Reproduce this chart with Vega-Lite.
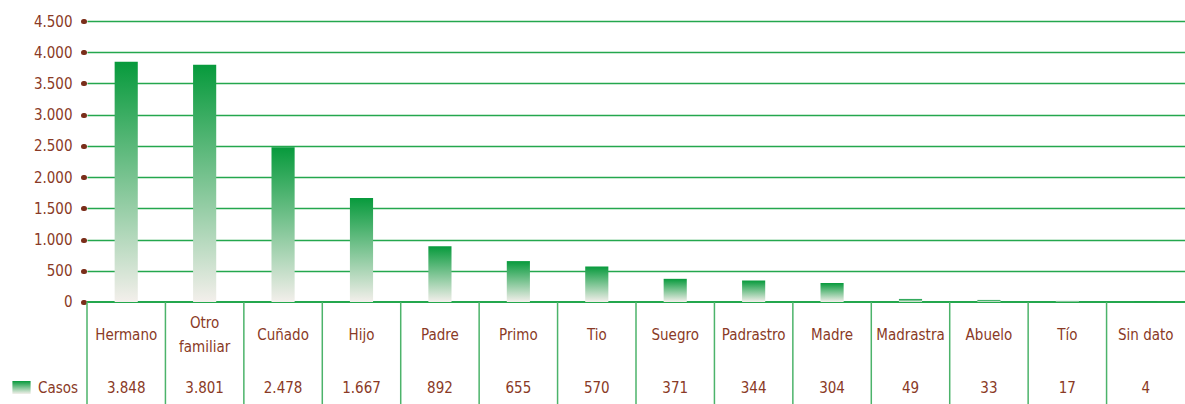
{
  "$schema": "https://vega.github.io/schema/vega-lite/v6.json",
  "width": 1098,
  "height": 383,
  "autosize": {"type": "none"},
  "padding": {"left": 87, "top": 21, "right": 0, "bottom": 0},
  "background": "white",
  "config": {
    "locale": {"number": {"decimal": ",", "thousands": ".", "grouping": [3], "currency": ["", " €"]}},
    "view": {"stroke": null, "fill": "#f4efec"},
    "font": "'DejaVu Sans Condensed', sans-serif",
    "text": {"font": "'DejaVu Sans Condensed', sans-serif", "fontSize": 15, "fill": "#8a3a26"}
  },
  "data": {
    "values": [
      {"cat": "Hermano", "label": "Hermano", "casos": 3848},
      {"cat": "Otro familiar", "label": "Otro\nfamiliar", "casos": 3801},
      {"cat": "Cuñado", "label": "Cuñado", "casos": 2478},
      {"cat": "Hijo", "label": "Hijo", "casos": 1667},
      {"cat": "Padre", "label": "Padre", "casos": 892},
      {"cat": "Primo", "label": "Primo", "casos": 655},
      {"cat": "Tio", "label": "Tio", "casos": 570},
      {"cat": "Suegro", "label": "Suegro", "casos": 371},
      {"cat": "Padrastro", "label": "Padrastro", "casos": 344},
      {"cat": "Madre", "label": "Madre", "casos": 304},
      {"cat": "Madrastra", "label": "Madrastra", "casos": 49},
      {"cat": "Abuelo", "label": "Abuelo", "casos": 33},
      {"cat": "Tío", "label": "Tío", "casos": 17},
      {"cat": "Sin dato", "label": "Sin dato", "casos": 4}
    ]
  },
  "encoding": {
    "x": {"field": "cat", "type": "nominal", "sort": null, "axis": null, "scale": {"paddingInner": 0, "paddingOuter": 0}}
  },
  "layer": [
    {
      "mark": {"type": "rect", "fill": "white"},
      "encoding": {
        "x": null,
        "y": {"datum": -1700, "type": "quantitative"},
        "y2": {"datum": -12}
      }
    },
    {
      "mark": {"type": "rule", "stroke": "#24a74e", "strokeWidth": 1.5},
      "encoding": {
        "x": null,
        "y": {"datum": 0, "type": "quantitative"}
      }
    },
    {
      "mark": {"type": "rule", "stroke": "#4cb36a", "strokeWidth": 1.5},
      "encoding": {
        "x": {"field": "cat", "type": "nominal", "sort": null, "bandPosition": 0},
        "y": {"datum": -1700, "type": "quantitative"},
        "y2": {"datum": 0}
      }
    },
    {
      "mark": {
        "type": "bar",
        "width": {"band": 0.295},
        "fill": {"gradient": "linear", "x1": 0, "y1": 0, "x2": 0, "y2": 1, "stops": [{"offset": 0, "color": "#079a3c"}, {"offset": 1, "color": "#f3efeb"}]}
      },
      "encoding": {
        "y": {
          "field": "casos",
          "type": "quantitative",
          "scale": {"domain": [-1633.5, 4500], "nice": false, "zero": false},
          "axis": {
            "values": [0, 500, 1000, 1500, 2000, 2500, 3000, 3500, 4000, 4500],
            "format": ",d",
            "title": null,
            "domain": false,
            "offset": 3,
            "tickSize": 1,
            "tickWidth": 5,
            "tickCap": "round",
            "tickColor": "#7a2e1a",
            "labelPadding": 11,
            "labelFont": "'DejaVu Sans Condensed', sans-serif",
            "labelFontSize": 15,
            "labelColor": "#8a3a26",
            "grid": true,
            "gridColor": "#24a74e",
            "gridWidth": 1.3
          }
        },
        "y2": {"datum": 0}
      }
    },
    {
      "transform": [{"filter": "false"}],
      "mark": {
        "type": "point",
        "filled": true,
        "opacity": 1,
        "strokeWidth": 0,
        "fill": {"gradient": "linear", "x1": 0, "y1": 0, "x2": 0, "y2": 1, "stops": [{"offset": 0, "color": "#079a3c"}, {"offset": 1, "color": "#f3efeb"}]}
      },
      "encoding": {
        "x": null,
        "shape": {
          "datum": "Casos",
          "type": "nominal",
          "scale": {"domain": ["Casos"], "range": ["M-1.4,-1H1.4V1H-1.4Z"]},
          "legend": {
            "title": null,
            "orient": "none",
            "legendX": -73,
            "legendY": 359,
            "padding": 0,
            "symbolSize": 169,
            "symbolStrokeWidth": 0,
            "labelOffset": 9,
            "labelFont": "'DejaVu Sans Condensed', sans-serif",
            "labelFontSize": 15,
            "labelColor": "#8a3a26"
          }
        }
      }
    },
    {
      "transform": [{"filter": "indexof(datum.label, '\\n') < 0"}],
      "mark": {"type": "text", "baseline": "middle", "align": "center"},
      "encoding": {
        "x": {"field": "cat", "type": "nominal", "sort": null, "bandPosition": 0.5},
        "y": {"datum": -528, "type": "quantitative"},
        "text": {"field": "label"}
      }
    },
    {
      "transform": [{"filter": "indexof(datum.label, '\\n') >= 0"}],
      "mark": {"type": "text", "lineBreak": "\n", "lineHeight": 24, "baseline": "middle", "align": "center"},
      "encoding": {
        "x": {"field": "cat", "type": "nominal", "sort": null, "bandPosition": 0.5},
        "y": {"datum": -336, "type": "quantitative"},
        "text": {"field": "label"}
      }
    },
    {
      "mark": {"type": "text", "baseline": "middle", "align": "center"},
      "encoding": {
        "x": {"field": "cat", "type": "nominal", "sort": null, "bandPosition": 0.5},
        "y": {"datum": -1377, "type": "quantitative"},
        "text": {"field": "casos", "type": "quantitative", "format": ",d"}
      }
    }
  ]
}
